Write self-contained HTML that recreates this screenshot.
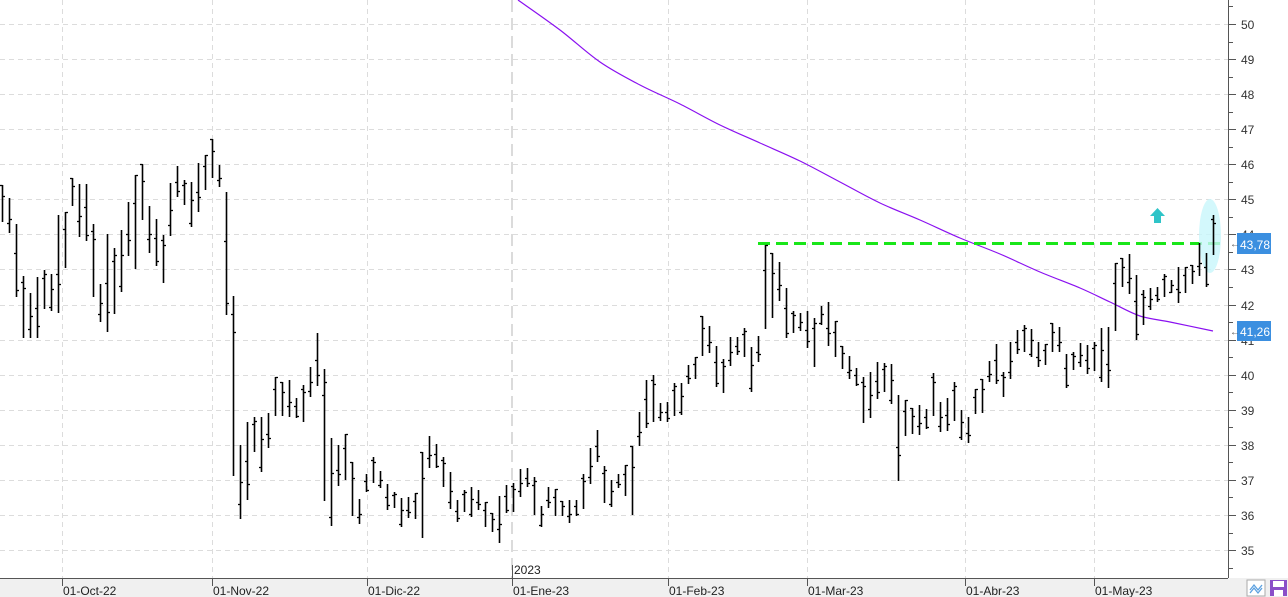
<!DOCTYPE html>
<html><head><meta charset="utf-8"><style>
html,body{margin:0;padding:0;background:#fff;}
svg{display:block;font-family:"Liberation Sans",sans-serif;}
</style></head><body>
<svg id="c" width="1288" height="597" viewBox="0 0 1288 597" xmlns="http://www.w3.org/2000/svg">
<rect x="0" y="0" width="1288" height="597" fill="#fff"/>
<g id="grid" stroke="#dcdcdc" stroke-width="1" stroke-dasharray="5,4"></g>
<line x1="512" y1="0" x2="512" y2="578" stroke="#cfcfcf" stroke-width="1.5" stroke-dasharray="12,6"/>
<path id="ma" fill="none" stroke="#8a10f0" stroke-width="1.2" stroke-linejoin="round"/>
<line x1="758" y1="243.5" x2="1222" y2="243.5" stroke="#19e619" stroke-width="3" stroke-dasharray="12,6"/>
<ellipse cx="1210" cy="236" rx="11" ry="37" fill="#c8f6fb" opacity="0.8"/>
<g id="bars2" stroke="#000" stroke-width="1.6"></g>
<polygon points="1157.5,208 1165,216 1161,216 1161,223 1154,223 1154,216 1150,216" fill="#2fc4c8"/>
<rect x="1228" y="0" width="60" height="578" fill="#fff"/>
<line x1="1228.5" y1="0" x2="1228.5" y2="578" stroke="#555" stroke-width="1"/>
<g id="yax" font-size="12" fill="#333"></g>
<rect x="1237" y="233" width="34" height="21" fill="#3b8fe0"/>
<text x="1240" y="249" font-size="12" fill="#fff">43,78</text>
<text x="1230" y="247" font-size="10" fill="#555">←</text>
<rect x="1237" y="321" width="34" height="20" fill="#3b8fe0"/>
<text x="1240" y="336" font-size="12" fill="#fff">41,26</text>
<text x="1230" y="335" font-size="10" fill="#555">←</text>
<rect x="0" y="578" width="1288" height="19" fill="#f0f0f0"/>
<line x1="0" y1="578.5" x2="1228" y2="578.5" stroke="#555" stroke-width="1"/>
<g id="xax" font-size="12" fill="#222"></g>
<line x1="512.5" y1="565" x2="512.5" y2="578" stroke="#555"/>
<text x="514" y="574" font-size="12" fill="#222">2023</text>
<rect x="1247" y="580" width="18" height="16" fill="#fff" stroke="#aaa"/>
<polyline points="1250,590 1254,585 1258,590 1262,585" fill="none" stroke="#5aa0e0" stroke-width="1.3"/>
<polyline points="1250,593 1254,588 1258,593 1262,588" fill="none" stroke="#5aa0e0" stroke-width="1.3"/>
<rect x="1270" y="580" width="17" height="16" fill="#8a4fc8"/>
<rect x="1273" y="581" width="11" height="6" fill="#fff"/>
<rect x="1274" y="590" width="9" height="6" fill="#fff"/>
</svg>
<script>
var NS="http://www.w3.org/2000/svg";
function el(p,t,a,txt){var e=document.createElementNS(NS,t);for(var k in a)e.setAttribute(k,a[k]);if(txt)e.textContent=txt;p.appendChild(e);return e;}
function py(p){return 24+(50-p)*35.07;}
var g=document.getElementById('grid');
for(var p=35;p<=50;p++){var y=Math.round(py(p))+0.5;el(g,'line',{x1:0,y1:y,x2:1228,y2:y});}
[62,212,367,668,807,965,1094].forEach(function(x){el(g,'line',{x1:x+0.5,y1:0,x2:x+0.5,y2:578});});
var P=[[518,0],[560,30],[600,62],[640,85],[680,104],[720,125],[760,143],[800,161],[840,182],[880,203],[920,220],[960,238],[1000,254],[1040,272],[1080,288],[1110,302],[1140,316],[1170,322],[1213,331]];
var d="M"+P[0][0]+","+P[0][1];
for(var i=0;i<P.length-1;i++){var p0=P[Math.max(0,i-1)],p1=P[i],p2=P[i+1],p3=P[Math.min(P.length-1,i+2)];
 d+=" C"+(p1[0]+(p2[0]-p0[0])/6)+","+(p1[1]+(p2[1]-p0[1])/6)+" "+(p2[0]-(p3[0]-p1[0])/6)+","+(p2[1]-(p3[1]-p1[1])/6)+" "+p2[0]+","+p2[1];}
document.getElementById('ma').setAttribute('d',d);
var ya=document.getElementById('yax');
for(var p=35;p<=50;p++){var y=Math.round(py(p))+0.5;el(ya,'line',{x1:1228,y1:y,x2:1236,y2:y,stroke:'#555'});
 var y2=Math.round(py(p+0.5))+0.5;el(ya,'line',{x1:1228,y1:y2,x2:1233,y2:y2,stroke:'#555'});
 el(ya,'text',{x:1241,y:y+4.5},String(p));}
var y3=Math.round(py(34.5))+0.5;el(ya,'line',{x1:1228,y1:y3,x2:1233,y2:y3,stroke:'#555'});
var xa=document.getElementById('xax');
[[62,'01-Oct-22'],[212,'01-Nov-22'],[367,'01-Dic-22'],[512,'01-Ene-23'],[668,'01-Feb-23'],[807,'01-Mar-23'],[965,'01-Abr-23'],[1094,'01-May-23']].forEach(function(d){
 el(xa,'line',{x1:d[0]+0.5,y1:578,x2:d[0]+0.5,y2:586,stroke:'#555'});el(xa,'text',{x:d[0]+1,y:595},d[1]);});
var B=[[2,185,222],[9,198,233],[16,224,297],[23,276,338],[30,293,338],[37,277,338],[44,270,309],[51,274,311],[58,215,313],[65,212,268],[72,178,206],[79,184,237],[86,184,241],[93,224,297],[100,284,322],[107,234,332],[114,248,314],[121,230,292],[128,202,256],[135,175,269],[142,164,220],[149,206,253],[156,219,266],[163,235,283],[170,183,236],[177,166,197],[184,180,205],[191,182,227],[198,163,212],[205,155,190],[212,139,178],[219,165,187],[226,192,315],[233,296,476],[240,445,519],[247,422,500],[254,417,452],[261,417,472],[268,413,448],[275,377,416],[282,382,416],[289,380,417],[296,398,418],[303,385,422],[310,367,397],[317,333,386],[324,369,501],[331,438,526],[338,445,486],[345,434,480],[352,462,516],[359,499,524],[366,474,492],[373,457,483],[380,471,488],[387,484,510],[394,492,508],[401,498,527],[408,497,518],[415,493,519],[422,452,538],[429,436,468],[436,444,468],[443,457,487],[450,472,509],[457,500,522],[464,490,512],[471,487,517],[478,490,510],[485,502,527],[492,513,532],[499,496,543],[506,485,513],[513,483,512],[520,469,497],[527,468,487],[534,477,515],[541,506,527],[548,487,508],[555,489,516],[562,501,516],[569,500,523],[576,500,516],[583,474,509],[590,448,484],[597,430,462],[604,466,503],[611,480,507],[618,474,488],[625,465,496],[632,446,515],[639,412,446],[646,380,428],[653,375,422],[660,403,421],[667,402,422],[674,383,416],[681,383,415],[688,365,384],[695,357,379],[702,316,356],[709,326,353],[716,346,387],[723,359,393],[730,337,366],[737,337,355],[744,328,357],[751,347,392],[758,336,362],[765,245,329],[772,253,318],[779,262,301],[786,288,338],[793,311,333],[800,313,331],[807,311,348],[814,318,367],[821,306,325],[828,302,346],[835,321,357],[842,346,369],[849,356,379],[856,368,386],[863,377,423],[870,372,418],[877,362,399],[884,363,392],[891,364,404],[898,395,481],[905,400,436],[912,408,434],[919,405,435],[926,409,429],[933,373,416],[940,402,432],[947,398,431],[954,382,421],[961,410,440],[968,417,443],[975,389,414],[982,379,413],[989,361,382],[996,344,384],[1003,372,397],[1010,342,379],[1017,330,354],[1024,325,352],[1031,329,357],[1038,342,367],[1045,344,365],[1052,323,352],[1059,327,352],[1066,354,388],[1073,352,370],[1080,343,367],[1087,345,374],[1094,342,371],[1101,328,382],[1108,327,388],[1115,263,331],[1122,258,287],[1129,254,294],[1136,275,340],[1143,290,325],[1150,288,310],[1157,287,302],[1164,274,297],[1171,280,293],[1178,267,303],[1185,267,293],[1192,265,284],[1199,243,276],[1206,253,287],[1213,215,255]];
var bg=document.getElementById('bars2');
B.forEach(function(b,i){var x=b[0]+0.5,h=b[2]-b[1];var o=b[1]+h*((i*37)%10)/10,c=b[1]+h*((i*53+3)%10)/10;
 el(bg,'line',{x1:x,y1:b[1],x2:x,y2:b[2]});
 el(bg,'line',{x1:x-2.5,y1:Math.round(o)+0.5,x2:x,y2:Math.round(o)+0.5,'stroke-width':1.3});
 el(bg,'line',{x1:x,y1:Math.round(c)+0.5,x2:x+2.5,y2:Math.round(c)+0.5,'stroke-width':1.3});});
</script>
</body></html>
